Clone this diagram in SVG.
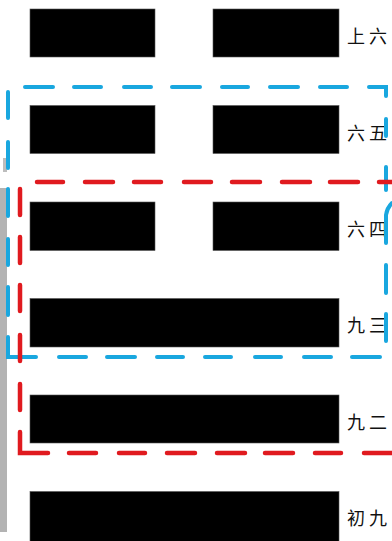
<svg xmlns="http://www.w3.org/2000/svg" width="392" height="541" viewBox="0 0 392 541">
<style>
.bar{fill:#000;stroke:#555;stroke-width:0.6}
.lbl{font-family:"Noto Sans CJK SC","Noto Sans CJK JP",sans-serif;font-size:18px;fill:#111;letter-spacing:4px;dominant-baseline:central}
.blue{fill:none;stroke:#19a7df;stroke-width:4;stroke-linecap:round;stroke-linejoin:miter}
.red{fill:none;stroke:#e01a1f;stroke-width:4.5;stroke-linecap:round;stroke-linejoin:miter}
</style>
<rect width="392" height="541" fill="#fff"/>
<g id="shadow">
<rect x="0" y="188" width="7" height="344" fill="#b3b3b3"/>
<rect x="3" y="158" width="4" height="14" fill="#bdbdbd"/>
</g>
<g id="line6"><rect class="bar" x="30" y="9" width="125" height="48"/><rect class="bar" x="213" y="9" width="126" height="48"/><text class="lbl" x="347" y="35">上六</text></g>
<g id="line5"><rect class="bar" x="30" y="105.5" width="125" height="48"/><rect class="bar" x="213" y="105.5" width="126" height="48"/><text class="lbl" x="347" y="132">六五</text></g>
<g id="line4"><rect class="bar" x="30" y="202" width="125" height="48.5"/><rect class="bar" x="213" y="202" width="126" height="48.5"/><text class="lbl" x="347" y="228">六四</text></g>
<g id="line3"><rect class="bar" x="30" y="298.5" width="309" height="48.5"/><text class="lbl" x="347" y="324">九三</text></g>
<g id="line2"><rect class="bar" x="30" y="395" width="309" height="48"/><text class="lbl" x="347" y="421">九二</text></g>
<g id="line1"><rect class="bar" x="30" y="491.5" width="309" height="52"/><text class="lbl" x="347" y="517">初九</text></g>
<g id="connectors">
<path id="blueBox" class="blue" d="M25 87H53M74 87H101M124 87H151M172 87H200M222 87H248M270 87H298M320 87H347M369 87H386V96M386 119V136M386 167V190M386 215V243M386 265V293M386 314V341M386 215Q387 208 392 203M8 92V118M8 142V168M8 189V216M8 239V265M8 287V315M8 337V357H36M59 357H86M107 357H135M157 357H183M205 357H231M255 357H281M304 357H331M352 357H380"/>
<path id="redBox" class="red" d="M37 182H63M85 182H113M134 182H161M184 182H211M232 182H260M282 182H310M330 182H358M379 182H394M20 189V215M20 237V263M20 285V311M20 335V361M20 384V410M20 432V453H48M69 453H96M119 453H145M167 453H195M217 453H245M265 453H293M315 453H341M364 453H394"/>
</g>
</svg>
